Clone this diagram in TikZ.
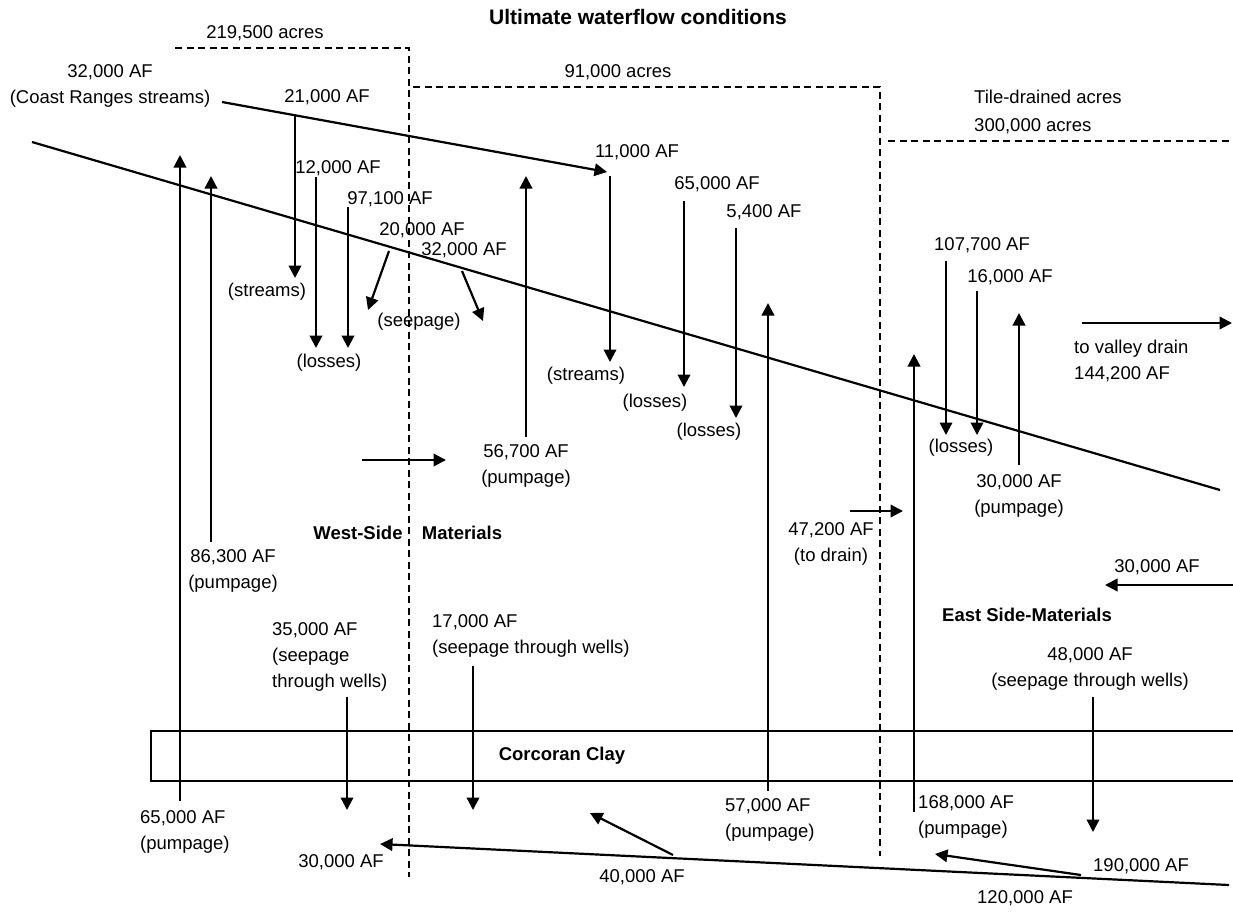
\documentclass[tikz,border=0pt]{standalone}
\usepackage{fontspec}
\setmainfont{Liberation Sans}
\usetikzlibrary{arrows.meta}
\begin{document}
\begin{tikzpicture}[x=1pt,y=-1pt,
  lbl/.style={inner sep=0pt,font=\fontsize{18.5}{26}\selectfont,align=center},
  lbll/.style={lbl,align=left,anchor=west},
  boldlbl/.style={inner sep=0pt,font=\fontsize{18.5}{26}\selectfont\bfseries},
  flow/.style={line width=2.2pt,-{Triangle[length=12.5pt,width=12.5pt]}},
  ground/.style={line width=2.2pt},
  bound/.style={line width=2.2pt,dash pattern=on 7pt off 4.5pt},
  claybox/.style={line width=2.4pt}
]
\useasboundingbox (0,0) rectangle (1233,911);

% ---------- title and area labels
\node[inner sep=0pt,font=\fontsize{21}{25}\selectfont\bfseries] (title) at (638,17) {Ultimate waterflow conditions};
\node[lbl] (a219) at (265,33) {219,500 acres};
\node[lbl] (a91) at (618,72) {91,000 acres};
\node[lbll] (tile1) at (974,97) {Tile-drained acres};
\node[lbll] (tile2) at (974,126) {300,000 acres};

% ---------- boundaries (dashed)
\coordinate (b1a) at (175,48); \coordinate (b1b) at (409,48); \coordinate (b1c) at (409,877);
\coordinate (b2a) at (413,87); \coordinate (b2b) at (880,87); \coordinate (b2c) at (880,856);
\coordinate (b3a) at (888,141); \coordinate (b3b) at (1233,141);
\draw[bound] (b1a) -- (b1b) -- (b1c);
\draw[bound] (b2a) -- (b2b) -- (b2c);
\draw[bound] (b3a) -- (b3b);

% ---------- Corcoran Clay
\coordinate (c1) at (1233,731); \coordinate (c2) at (151,731);
\coordinate (c3) at (151,781); \coordinate (c4) at (1233,781);
\draw[claybox] (c1) -- (c2) -- (c3) -- (c4);
\node[boldlbl] (clay) at (562,756) {Corcoran Clay};

% ---------- ground surface
\coordinate (g1) at (32,142); \coordinate (g2) at (1220,490);
\draw[ground] (g1) -- (g2);

% ---------- labels
\node[lbl] (coast) at (110,86) {32,000 AF\\(Coast Ranges streams)};
\node[lbl] (l21000) at (327,97) {21,000 AF};
\node[lbl] (streams1) at (267,292) {(streams)};
\node[lbl] (l12000) at (338,168) {12,000 AF};
\node[lbl] (l97100) at (390,199) {97,100 AF};
\node[lbl] (losses1) at (329,363) {(losses)};
\node[lbl] (l20000) at (422,230) {20,000 AF};
\node[lbl] (l32000) at (464,250) {32,000 AF};
\node[lbl] (seepage) at (419,322) {(seepage)};
\node[boldlbl] (west) at (358,533) {West-Side};
\node[boldlbl] (mat) at (462,533) {Materials};
\node[lbl] (l86300) at (233,571) {86,300 AF\\(pumpage)};
\node[lbl] (l56700) at (526,466) {56,700 AF\\(pumpage)};
\node[lbl] (l11000) at (637,152) {11,000 AF};
\node[lbl] (streams2) at (586,376) {(streams)};
\node[lbl] (l65000) at (717,184) {65,000 AF};
\node[lbl] (losses2) at (655,403) {(losses)};
\node[lbl] (l5400) at (764,212) {5,400 AF};
\node[lbl] (losses3) at (709,432) {(losses)};
\node[lbl] (l47200) at (831,544) {47,200 AF\\(to drain)};
\node[lbl] (l107700) at (982,245) {107,700 AF};
\node[lbl] (l16000) at (1010,277) {16,000 AF};
\node[lbl] (losses4) at (961,448) {(losses)};
\node[lbl] (l30000p) at (1019,496) {30,000 AF\\(pumpage)};
\node[lbll] (valley) at (1074,361) {to valley drain\\144,200 AF};
\node[lbl] (l30000r) at (1157,567) {30,000 AF};
\node[boldlbl] (east) at (1027,615) {East Side-Materials};
\node[lbll] (l35000) at (272,657) {35,000 AF\\(seepage\\through wells)};
\node[lbll] (l17000) at (432,636) {17,000 AF\\(seepage through wells)};
\node[lbl] (l48000) at (1090,669) {48,000 AF\\(seepage through wells)};
\node[lbll] (l65000b) at (140,832) {65,000 AF\\(pumpage)};
\node[lbll] (l57000) at (725,820) {57,000 AF\\(pumpage)};
\node[lbll] (l168000) at (918,817) {168,000 AF\\(pumpage)};
\node[lbl] (l30000b) at (341,862) {30,000 AF};
\node[lbl] (l40000) at (642,877) {40,000 AF};
\node[lbl] (l190000) at (1141,866) {190,000 AF};
\node[lbl] (l120000) at (1025,898) {120,000 AF};

% ---------- flow end points
\coordinate (cs1) at (222,102); \coordinate (cs2) at (607,172);
\coordinate (u1a) at (180,801); \coordinate (u1b) at (180,155);
\coordinate (u2a) at (211,542); \coordinate (u2b) at (211,176);
\coordinate (u3a) at (526,437); \coordinate (u3b) at (526,176);
\coordinate (u4a) at (768,791); \coordinate (u4b) at (768,303);
\coordinate (u5a) at (914,812); \coordinate (u5b) at (914,354);
\coordinate (u6a) at (1019,465); \coordinate (u6b) at (1019,313);
\coordinate (d1a) at (295,114); \coordinate (d1b) at (295,278);
\coordinate (d2a) at (316,177); \coordinate (d2b) at (316,348);
\coordinate (d3a) at (348,207); \coordinate (d3b) at (348,348);
\coordinate (d4a) at (610,176); \coordinate (d4b) at (610,362);
\coordinate (d5a) at (684,201); \coordinate (d5b) at (684,387);
\coordinate (d6a) at (736,228); \coordinate (d6b) at (736,418);
\coordinate (d7a) at (946,261); \coordinate (d7b) at (946,435);
\coordinate (d8a) at (977,291); \coordinate (d8b) at (977,435);
\coordinate (d9a) at (347,697); \coordinate (d9b) at (347,810);
\coordinate (d10a) at (473,666); \coordinate (d10b) at (473,810);
\coordinate (d11a) at (1093,697); \coordinate (d11b) at (1093,832);
\coordinate (s1a) at (389,251); \coordinate (s1b) at (368,310);
\coordinate (s2a) at (462,271); \coordinate (s2b) at (483,321);
\coordinate (h1a) at (362,460); \coordinate (h1b) at (446,460);
\coordinate (h2a) at (850,511); \coordinate (h2b) at (903,511);
\coordinate (h3a) at (1082,323); \coordinate (h3b) at (1232,323);
\coordinate (h4a) at (1233,585); \coordinate (h4b) at (1105,585);
\coordinate (bt1) at (1229,885); \coordinate (bt2) at (380,844);
\coordinate (bt3) at (673,855); \coordinate (bt4) at (590,813);
\coordinate (bt5) at (1081,875); \coordinate (bt6) at (935,854);

% ---------- flows
\draw[flow] (cs1) -- (cs2);
\foreach \n in {u1,u2,u3,u4,u5,u6,d1,d2,d3,d4,d5,d6,d7,d8,d9,d10,d11,s1,s2,h1,h2,h3,h4}
  \draw[flow] (\n a) -- (\n b);
\draw[flow] (bt1) -- (bt2);
\draw[flow] (bt3) -- (bt4);
\draw[flow] (bt5) -- (bt6);
\end{tikzpicture}
\end{document}
